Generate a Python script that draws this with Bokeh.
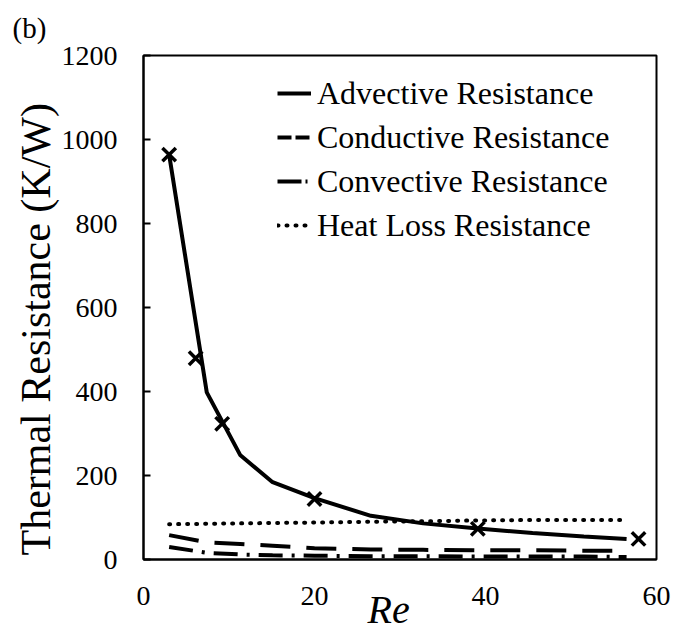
from bokeh.plotting import figure
from bokeh.models import Range1d, FixedTicker, Legend, LegendItem, Title
from bokeh.embed import file_html
from bokeh.resources import INLINE

# ---- data ----
re_line = [3.0, 7.4, 11.3, 15.1, 20.0, 26.6, 32.7, 39.1, 45.5, 51.5, 56.5]
advective = [964, 398, 249, 184, 146, 104, 86, 74, 63, 55, 49]
conductive = [58, 41, 37, 33, 27, 24, 23, 22, 22, 21, 21]
convective = [30, 16, 12, 10, 9, 8, 8, 7, 7, 7, 6]
heat_loss = [84, 85, 86, 87, 88, 90, 91, 93, 94, 94, 94]

re_sim = [3.0, 6.1, 9.2, 20.0, 39.1, 57.9]
advective_sim = [964, 479, 323, 144, 73, 49]

x_ticks = [0, 20, 40, 60]
y_ticks = [0, 200, 400, 600, 800, 1000, 1200]

series_names = ["Advective Resistance", "Conductive Resistance",
                "Convective Resistance", "Heat Loss Resistance"]

FONT = "Liberation Serif"

p = figure(width=673, height=636, output_backend="svg", toolbar_location=None,
           x_range=Range1d(0, 60), y_range=Range1d(0, 1200),
           min_border_left=143, min_border_right=17,
           min_border_top=55, min_border_bottom=77)
# an off-screen range, used only so the legend swatches have data to draw from
p.extra_x_ranges = {"legend_swatch": Range1d(-1000, -900)}
p.background_fill_color = "white"
p.border_fill_color = "white"
p.outline_line_color = "black"
p.outline_line_width = 2
p.xgrid.visible = False
p.ygrid.visible = False

# data lines (pattern as drawn in the plot area)
p.line(re_line, advective, line_color="black", line_width=4)
p.line(re_line, conductive, line_color="black", line_width=4, line_dash="30 16")
p.line(re_line, convective, line_color="black", line_width=4,
       line_dash="24 9 3 9")
p.line(re_line, heat_loss, line_color="black", line_width=4,
       line_dash="1 8", line_cap="round")
p.scatter(re_sim, advective_sim, marker="x", size=19, line_color="black",
          line_width=3.5)

# legend swatches (same series, pattern as drawn in the legend)
g_adv = p.line(re_line, advective, line_color="black", line_width=4,
               x_range_name="legend_swatch")
g_cond = p.line(re_line, conductive, line_color="black", line_width=4,
                line_dash="14 4", x_range_name="legend_swatch")
g_conv = p.line(re_line, convective, line_color="black", line_width=4,
                line_dash="24 4 2 4", x_range_name="legend_swatch")
g_heat = p.line(re_line, heat_loss, line_color="black", line_width=4,
                line_dash="1 8", line_cap="round", x_range_name="legend_swatch")

# axes
p.xaxis.ticker = FixedTicker(ticks=x_ticks)
p.yaxis.ticker = FixedTicker(ticks=y_ticks)
for ax in (p.xaxis, p.yaxis):
    ax.major_label_text_font = FONT
    ax.major_label_text_font_size = "28px"
    ax.major_label_text_color = "black"
    ax.minor_tick_line_color = None
    ax.axis_line_color = "black"
    ax.axis_line_width = 2

p.xaxis.major_tick_line_color = None
p.xaxis.major_tick_in = 0
p.xaxis.major_tick_out = 0
p.xaxis.major_label_standoff = 27

p.yaxis.major_tick_in = 7
p.yaxis.major_tick_out = 0
p.yaxis.major_tick_line_width = 2
p.yaxis.major_tick_line_color = "black"
p.yaxis.major_label_standoff = 26

# x-axis title, set just under the tick labels
xtitle = Title(text="Re", align="left", offset=224, standoff=-41,
               vertical_align="top", text_font=FONT, text_font_size="40px",
               text_font_style="italic", text_color="black")
p.add_layout(xtitle, "below")

ytitle = Title(text="Thermal Resistance (K/W)", align="left", offset=4,
               standoff=0, text_font=FONT, text_font_size="42px",
               text_font_style="normal", text_color="black")
p.add_layout(ytitle, "left")

# panel tag "(b)" in the top-left corner
p.title.text = "(b)"
p.title.align = "left"
p.title.offset = -131
p.title.standoff = 19
p.title.vertical_align = "top"
p.title.text_font = FONT
p.title.text_font_size = "29px"
p.title.text_font_style = "normal"
p.title.text_color = "black"

legend = Legend(items=[
    LegendItem(label=series_names[0], renderers=[g_adv]),
    LegendItem(label=series_names[1], renderers=[g_cond]),
    LegendItem(label=series_names[2], renderers=[g_conv]),
    LegendItem(label=series_names[3], renderers=[g_heat]),
], location=(134, 312))
legend.label_text_font = FONT
legend.label_text_font_size = "32px"
legend.label_text_color = "black"
legend.glyph_width = 34
legend.glyph_height = 44
legend.label_height = 44
legend.label_standoff = 6
legend.spacing = 0
legend.padding = 0
legend.margin = 0
legend.border_line_color = None
legend.background_fill_alpha = 0
p.add_layout(legend, "center")

open("out.html", "w").write(file_html(p, INLINE))
